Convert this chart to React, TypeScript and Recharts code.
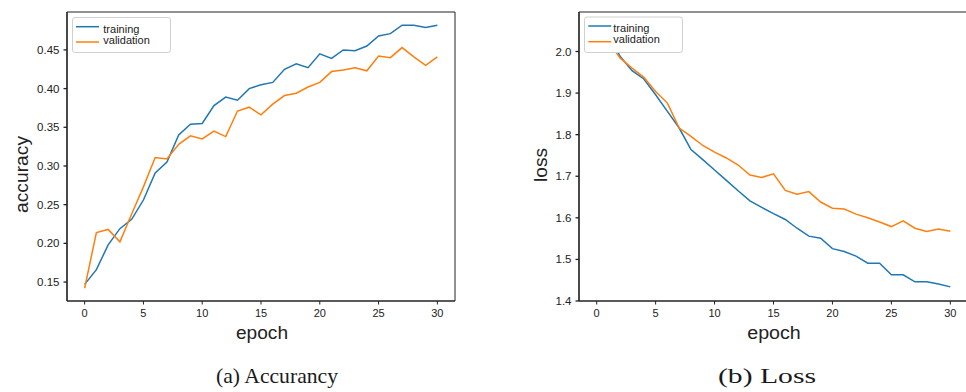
import { LineChart, Line, XAxis, YAxis, ReferenceArea } from "recharts";

// epochs 0..30
const epochs = Array.from({ length: 31 }, (_, i) => i);
const epochTicks = [0, 5, 10, 15, 20, 25, 30];

// accuracy curves
const accTrain = [0.147, 0.166, 0.198, 0.219, 0.231, 0.256, 0.291, 0.305, 0.340, 0.354, 0.355, 0.378, 0.389, 0.385, 0.400, 0.405, 0.408, 0.425, 0.432, 0.427, 0.445, 0.439, 0.450, 0.449, 0.455, 0.468, 0.471, 0.482, 0.482, 0.479, 0.482];
const accVal = [0.142, 0.214, 0.218, 0.202, 0.238, 0.273, 0.311, 0.309, 0.328, 0.339, 0.335, 0.345, 0.338, 0.371, 0.376, 0.366, 0.380, 0.391, 0.394, 0.402, 0.408, 0.422, 0.424, 0.427, 0.423, 0.442, 0.440, 0.453, 0.441, 0.430, 0.441];
const accTicks = [0.15, 0.2, 0.25, 0.3, 0.35, 0.4, 0.45];

// loss curves (first two epochs sit under the legend)
const lossTrain = [2.08, 2.04, 1.988, 1.954, 1.934, 1.896, 1.856, 1.816, 1.764, 1.740, 1.715, 1.690, 1.665, 1.641, 1.625, 1.610, 1.596, 1.575, 1.556, 1.551, 1.526, 1.519, 1.508, 1.491, 1.491, 1.463, 1.463, 1.446, 1.446, 1.441, 1.434];
const lossVal = [2.07, 2.025, 1.984, 1.960, 1.938, 1.904, 1.876, 1.816, 1.796, 1.774, 1.758, 1.744, 1.727, 1.703, 1.697, 1.706, 1.666, 1.657, 1.663, 1.638, 1.623, 1.621, 1.609, 1.600, 1.590, 1.579, 1.593, 1.575, 1.567, 1.573, 1.568];
const lossTicks = [1.4, 1.5, 1.6, 1.7, 1.8, 1.9, 2.0];

const accData = epochs.map((e, i) => ({ epoch: e, training: accTrain[i], validation: accVal[i] }));
const lossData = epochs.map((e, i) => ({ epoch: e, training: lossTrain[i], validation: lossVal[i] }));

const BLUE = "#1f77b4";
const ORANGE = "#ff7f0e";
const INK = "#222";
const SANS = "'Liberation Sans', Arial, sans-serif";
const SERIF = "'Liberation Serif', 'Times New Roman', serif";

const xDomain: [number, number] = [-1.5, 31.5];
const accDomain: [number, number] = [0.1255, 0.499];
const lossDomain: [number, number] = [1.4, 2.095];

const tickStyle = { fill: INK, fontSize: 11, fontFamily: SANS };

const Panel = ({ data, domain, ticks, digits, left, width, marginRight }: any) => (
  <div style={{ position: "absolute", left, top: 0 }}>
    <LineChart width={width} height={330} data={data} margin={{ top: 12, right: marginRight, bottom: 0, left: 0 }}>
      <XAxis
        type="number"
        dataKey="epoch"
        domain={xDomain}
        ticks={epochTicks}
        interval={0}
        allowDataOverflow
        height={29}
        tickSize={3.5}
        tickMargin={5}
        stroke={INK}
        tick={tickStyle}
      />
      <YAxis
        type="number"
        domain={domain}
        ticks={ticks}
        interval={0}
        allowDataOverflow
        width={67}
        tickSize={3.5}
        tickMargin={4}
        stroke={INK}
        strokeWidth={1.3}
        tick={{ ...tickStyle, fontSize: 11.5 }}
        tickFormatter={(v: number) => v.toFixed(digits)}
      />
      <ReferenceArea x1={xDomain[0]} x2={xDomain[1]} y1={domain[0]} y2={domain[1]} fill="none" stroke={INK} strokeWidth={1} />
      <Line type="linear" dataKey="training" stroke={BLUE} strokeWidth={1.5} dot={false} isAnimationActive={false} />
      <Line type="linear" dataKey="validation" stroke={ORANGE} strokeWidth={1.5} dot={false} isAnimationActive={false} />
    </LineChart>
  </div>
);

const LegendBox = ({ x, y, w, h, lineX, lineY, textX, textY }: any) => (
  <g>
    <rect x={x} y={y} width={w} height={h} rx={2.5} fill="#fff" stroke="#d0d0d0" strokeWidth={1} />
    <line x1={lineX} x2={lineX + 23} y1={lineY[0]} y2={lineY[0]} stroke={BLUE} strokeWidth={1.5} />
    <line x1={lineX} x2={lineX + 23} y1={lineY[1]} y2={lineY[1]} stroke={ORANGE} strokeWidth={1.5} />
    <text x={textX} y={textY[0]} fontSize={11} fontFamily={SANS} fill={INK}>training</text>
    <text x={textX} y={textY[1]} fontSize={11} fontFamily={SANS} fill={INK}>validation</text>
  </g>
);

export default function App() {
  return (
    <div style={{ position: "absolute", left: 0, top: 0, width: 966, height: 392, overflow: "hidden", background: "#fff" }}>
      <Panel data={accData} domain={accDomain} ticks={accTicks} digits={2} left={0} width={470} marginRight={15} />
      <Panel data={lossData} domain={lossDomain} ticks={lossTicks} digits={1} left={512} width={458} marginRight={2} />
      <svg width={966} height={392} style={{ position: "absolute", left: 0, top: 0, pointerEvents: "none" }}>
        <LegendBox x={72.5} y={17.5} w={98} h={35} lineX={76} lineY={[26.7, 42]} textX={103.3} textY={[32.5, 44.3]} />
        <LegendBox x={584.5} y={17} w={98} h={35.5} lineX={588.3} lineY={[26, 41.7]} textX={613.3} textY={[32, 42.5]} />

        <text x={262} y={338.7} textAnchor="middle" fontSize={18} fontFamily={SANS} fill={INK} textLength={52} lengthAdjust="spacingAndGlyphs">epoch</text>
        <text x={774} y={338.7} textAnchor="middle" fontSize={18} fontFamily={SANS} fill={INK} textLength={53.5} lengthAdjust="spacingAndGlyphs">epoch</text>
        <text transform="translate(27.5,174.5) rotate(-90)" textAnchor="middle" fontSize={19} fontFamily={SANS} fill={INK} textLength={77} lengthAdjust="spacingAndGlyphs">accuracy</text>
        <text transform="translate(546.5,165) rotate(-90)" textAnchor="middle" fontSize={19} fontFamily={SANS} fill={INK} textLength={34} lengthAdjust="spacingAndGlyphs">loss</text>

        <text x={277} y={382.5} textAnchor="middle" fontSize={22} fontFamily={SERIF} fill="#1a1a1a" textLength={122} lengthAdjust="spacingAndGlyphs">(a) Accurancy</text>
        <text x={767} y={382.5} textAnchor="middle" fontSize={22} fontFamily={SERIF} fill="#1a1a1a" textLength={98} lengthAdjust="spacingAndGlyphs">(b) Loss</text>
      </svg>
    </div>
  );
}
